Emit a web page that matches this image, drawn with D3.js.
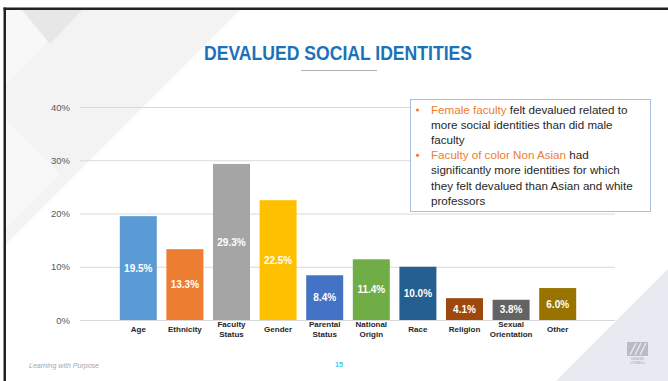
<!DOCTYPE html>
<html>
<head>
<meta charset="utf-8">
<script src="https://cdn.jsdelivr.net/npm/d3@7"></script>
<style>
    body { margin: 0; background: #fff; }
    svg { display: block; }
    .axis .domain { display: none; }
    .axis line { stroke: #d9d9d9; }
    .axis text { fill: #595959; font-family: 'Liberation Sans', Arial, sans-serif; font-size: 9.5px; }
</style>
</head>
<body>
<svg id="slide" width="668" height="381"></svg>
<script>
/**
 * Data.
 */
const categories = ['Age', 'Ethnicity', 'Faculty\nStatus', 'Gender', 'Parental\nStatus',
    'National\nOrigin', 'Race', 'Religion', 'Sexual\nOrientation', 'Other'];
const values = [19.5, 13.3, 29.3, 22.5, 8.4, 11.4, 10.0, 4.1, 3.8, 6.0];
const yTicks = [0, 10, 20, 30, 40];
const titleText = 'DEVALUED SOCIAL IDENTITIES';
// each line: [highlighted part, normal part]
const noteLines = [
    ['Female faculty', ' felt devalued related to'],
    ['', 'more social identities than did male'],
    ['', 'faculty'],
    ['Faculty of color Non Asian', ' had'],
    ['', 'significantly more identities for which'],
    ['', 'they felt devalued than Asian and white'],
    ['', 'professors']
];
const bulletLines = [0, 3];
const footerText = 'Learning with Purpose';
const pageNumber = '15';

/**
 * Visual configs.
 */
const barColors = ['#5b9bd5', '#ed7d31', '#a5a5a5', '#ffc000', '#4472c4',
        '#70ad47', '#255e91', '#9e480e', '#636363', '#997300'],
    plot = { left: 80, right: 615, top: 107, bottom: 320 },
    noteTextWidth = 202, // width of the longest note line
    fontSans = "'Liberation Sans', Arial, sans-serif",
    fontNarrow = "'Liberation Sans Narrow', 'Arial Narrow', sans-serif";

const svg = d3.select('#slide');

/**
 * Slide background.
 */
const bg = svg.append('g').attr('class', 'background');
bg.append('polygon').attr('points', '6,10 240,10 6,244').attr('fill', '#f3f3f3');
bg.append('polygon').attr('points', '6,10 80,10 6,84').attr('fill', '#f8f8f8');
bg.append('polygon').attr('points', '22,10 82,10 50,44').attr('fill', '#e7e7e7');
bg.append('polygon').attr('points', '6,120 60,174 6,228').attr('fill', '#f8f8f8');
bg.append('polygon').attr('points', '668,269 668,381 556,381').attr('fill', '#e8e9f1');

// Frame
svg.append('rect').attr('x', 3.5).attr('y', 7.5).attr('width', 665).attr('height', 2.5).attr('fill', '#222');
svg.append('rect').attr('x', 3.5).attr('y', 7.5).attr('width', 2.5).attr('height', 374).attr('fill', '#222');

/**
 * Title.
 */
svg.append('text')
    .attr('x', 338).attr('y', 60)
    .attr('text-anchor', 'middle')
    .attr('textLength', 268).attr('lengthAdjust', 'spacingAndGlyphs')
    .style('font-family', fontNarrow).style('font-size', '21px').style('font-weight', 'bold')
    .attr('fill', '#1b72b8')
    .text(titleText);
svg.append('line').attr('x1', 301).attr('x2', 377).attr('y1', 70.5).attr('y2', 70.5)
    .attr('stroke', '#b0b0b0').attr('stroke-width', 1);

/**
 * Chart.
 */
const xScale = d3.scaleBand().domain(categories).range([115, 581]).paddingInner(0.206).paddingOuter(0.103),
    yScale = d3.scaleLinear().domain([0, 40]).range([plot.bottom, plot.top]),
    yAxis = d3.axisLeft(yScale).tickValues(yTicks).tickFormat(d => d + '%')
        .tickSize(-(plot.right - plot.left)).tickPadding(10);

svg.append('g').attr('class', 'axis y-axis')
    .attr('transform', 'translate(' + plot.left + ',0)')
    .call(yAxis);

const bars = svg.append('g').attr('class', 'bars')
    .selectAll('g').data(categories).join('g');

bars.append('rect')
    .attr('x', d => xScale(d))
    .attr('y', (d, i) => yScale(values[i]))
    .attr('width', xScale.bandwidth())
    .attr('height', (d, i) => yScale(0) - yScale(values[i]))
    .attr('fill', (d, i) => barColors[i]);

bars.append('text')
    .attr('x', d => xScale(d) + xScale.bandwidth() / 2)
    .attr('y', (d, i) => (yScale(values[i]) + yScale(0)) / 2)
    .attr('dy', '0.36em')
    .attr('text-anchor', 'middle')
    .style('font-family', fontSans).style('font-size', '10px').style('font-weight', 'bold')
    .attr('fill', '#fff')
    .text((d, i) => values[i].toFixed(1) + '%');

// Category labels
bars.append('text')
    .attr('text-anchor', 'middle')
    .style('font-family', fontSans).style('font-size', '8px').style('font-weight', 'bold')
    .attr('fill', '#262626')
    .each(function(d) {
        const lines = d.split('\n'),
            cx = xScale(d) + xScale.bandwidth() / 2,
            y0 = lines.length === 1 ? 332 : 327;
        d3.select(this).selectAll('tspan').data(lines).join('tspan')
            .attr('x', cx)
            .attr('y', (l, j) => y0 + j * 10)
            .text(l => l);
    });

/**
 * Note box.
 */
const note = svg.append('g').attr('class', 'note');
note.append('rect').attr('x', 410.5).attr('y', 99.5).attr('width', 240).attr('height', 112)
    .attr('fill', '#fff').attr('stroke', '#a9bfdc').attr('stroke-width', 1);

const noteTexts = noteLines.map((line, i) => {
    const y = 114 + i * 15.1;
    if (bulletLines.includes(i)) {
        note.append('circle').attr('cx', 417.5).attr('cy', y - 4).attr('r', 1.6).attr('fill', '#ed7d31');
    }
    const t = note.append('text')
        .attr('x', 431).attr('y', y)
        .style('font-family', fontNarrow).style('font-size', '12px');
    if (line[0]) t.append('tspan').attr('fill', '#ed7d31').text(line[0]);
    t.append('tspan').attr('fill', '#262626').text(line[1]);
    return t;
});

// Fit the font so the longest line matches the box text width
const longest = d3.max(noteTexts, t => t.node().getComputedTextLength());
noteTexts.forEach(t => t.style('font-size', (12 * noteTextWidth / longest) + 'px'));

/**
 * Footer.
 */
svg.append('text')
    .attr('x', 29).attr('y', 368)
    .attr('textLength', 70).attr('lengthAdjust', 'spacingAndGlyphs')
    .style('font-family', fontSans).style('font-size', '6.5px').style('font-style', 'italic')
    .attr('fill', '#a6a6a6')
    .text(footerText);

svg.append('text')
    .attr('x', 339).attr('y', 366.5)
    .attr('text-anchor', 'middle')
    .style('font-family', fontSans).style('font-size', '7px').style('font-weight', 'bold')
    .attr('fill', '#3cc8f4')
    .text(pageNumber);

// Logo
const logo = svg.append('g').attr('class', 'logo').attr('transform', 'translate(627,342)');
logo.append('rect').attr('width', 21).attr('height', 14).attr('fill', '#b9bac2');
logo.append('path').attr('d', 'M3,13 L9,1 M8,13 L14,1 M13,13 L19,1')
    .attr('stroke', '#e8e9f1').attr('stroke-width', 1.4);
logo.append('text').attr('x', 10.5).attr('y', 17.5).attr('text-anchor', 'middle')
    .style('font-family', fontSans).style('font-size', '3.6px').style('font-weight', 'bold')
    .attr('fill', '#b9bac2').text('UMASS');
logo.append('text').attr('x', 10.5).attr('y', 21.5).attr('text-anchor', 'middle')
    .style('font-family', fontSans).style('font-size', '3.6px').style('font-weight', 'bold')
    .attr('fill', '#b9bac2').text('LOWELL');
</script>
</body>
</html>
